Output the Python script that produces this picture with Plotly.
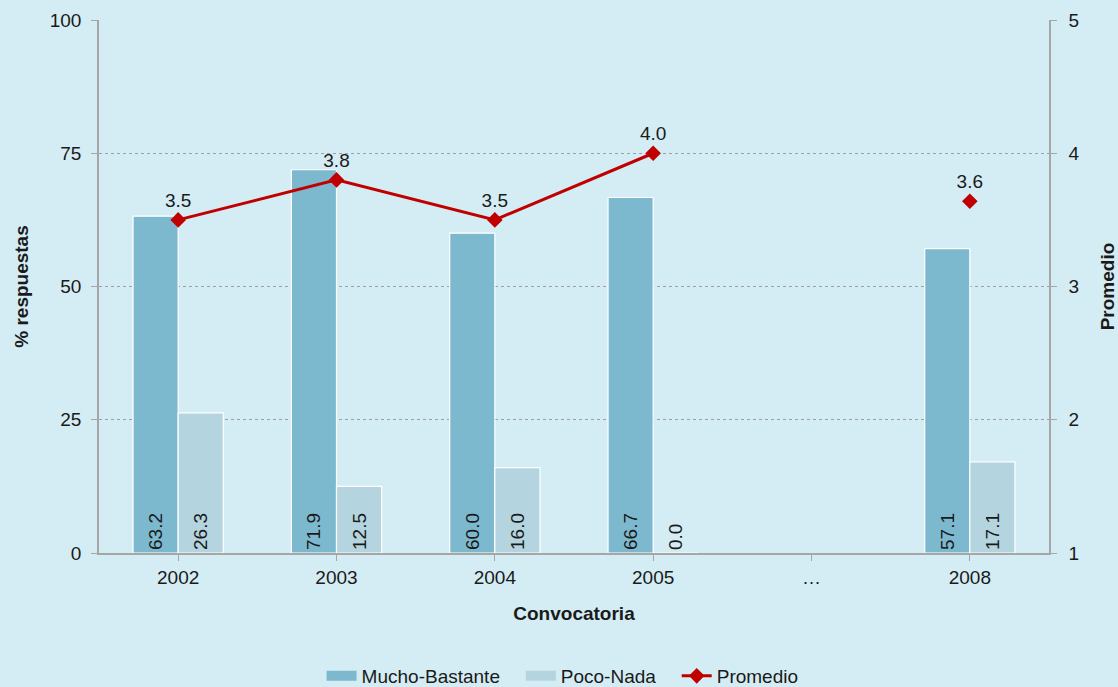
import plotly.graph_objects as go

# Data
convocatorias = ["2002", "2003", "2004", "2005", "…", "2008"]
mucho_bastante = [63.2, 71.9, 60.0, 66.7, None, 57.1]
poco_nada = [26.3, 12.5, 16.0, 0.0, None, 17.1]
promedio = [3.5, 3.8, 3.5, 4.0, None, 3.64]

BG = "#D4EDF4"
FONT = "Liberation Sans, Arial, sans-serif"
TEXT = "#1A1A1A"
AXIS = "#A6A6A6"
C_MUCHO = "#7DB9CE"
C_POCO = "#B4D4DF"
C_PROM = "#C00000"
FS = 19
GAP = "&nbsp;&nbsp;&nbsp;"

def bar_text(vals):
    return ["" if v is None else f"{v:.1f}" for v in vals]

def bar_pos(vals):
    return ["outside" if (v is not None and v == 0) else "inside" for v in vals]

fig = go.Figure()

fig.add_trace(go.Bar(
    name="Mucho-Bastante", legendgroup="mb", showlegend=False,
    x=convocatorias, y=mucho_bastante,
    marker=dict(color=C_MUCHO, line=dict(color="#FFFFFF", width=1.2)),
    text=bar_text(mucho_bastante), textposition=bar_pos(mucho_bastante),
    insidetextanchor="start", textangle=-90,
    textfont=dict(family=FONT, size=FS, color=TEXT),
    constraintext="none", cliponaxis=False,
))

fig.add_trace(go.Bar(
    name="Poco-Nada", legendgroup="pn", showlegend=False,
    x=convocatorias, y=poco_nada,
    marker=dict(color=C_POCO, line=dict(color="#FFFFFF", width=1.2)),
    text=bar_text(poco_nada), textposition=bar_pos(poco_nada),
    insidetextanchor="start", textangle=-90,
    textfont=dict(family=FONT, size=FS, color=TEXT),
    constraintext="none", cliponaxis=False,
))

# Legend swatches for the bar series, drawn as wide flat rectangles
for name, color, grp in [("Mucho-Bastante", C_MUCHO, "mb"), ("Poco-Nada", C_POCO, "pn")]:
    fig.add_trace(go.Scatter(
        name=name + GAP, legendgroup=grp, x=[None], y=[None],
        mode="lines", line=dict(color=color, width=10),
        hoverinfo="skip",
    ))

fig.add_trace(go.Scatter(
    name="Promedio",
    x=convocatorias, y=promedio, yaxis="y2",
    mode="lines+markers+text",
    line=dict(color=C_PROM, width=3),
    marker=dict(symbol="diamond", size=12, color=C_PROM),
    text=["" if v is None else f"{v:.1f}" for v in promedio],
    textposition="top center",
    textfont=dict(family=FONT, size=FS, color=TEXT),
    connectgaps=False, cliponaxis=False,
))

fig.update_layout(
    width=1118, height=687,
    margin=dict(l=99, r=69, t=20, b=134),
    paper_bgcolor=BG, plot_bgcolor=BG,
    font=dict(family=FONT, size=FS, color=TEXT),
    barmode="group", bargap=0.43, bargroupgap=0.0,
    showlegend=True,
    legend=dict(
        orientation="h", x=0.488, xanchor="center",
        yref="container", y=0.016, yanchor="middle",
        font=dict(family=FONT, size=FS, color=TEXT),
        traceorder="normal",
    ),
    xaxis=dict(
        type="category", automargin=False,
        showline=True, linecolor=AXIS, linewidth=1.5,
        ticks="outside", ticklen=6, tickcolor=AXIS,
        tickfont=dict(family=FONT, size=FS, color=TEXT),
        title=dict(text="<b>Convocatoria</b>", standoff=20,
                   font=dict(family=FONT, size=FS, color=TEXT)),
        showgrid=False,
    ),
    yaxis=dict(
        range=[0, 100], tickvals=[0, 25, 50, 75, 100], automargin=False,
        showline=True, linecolor=AXIS, linewidth=1.5,
        ticks="outside", ticklen=6, tickcolor=AXIS,
        ticklabelstandoff=6,
        tickfont=dict(family=FONT, size=FS, color=TEXT),
        showgrid=True, gridcolor="#A0A0A0", griddash="3px,3px", gridwidth=1,
        zeroline=False,
        title=dict(text="<b>% respuestas</b>", standoff=16,
                   font=dict(family=FONT, size=FS, color=TEXT)),
    ),
    yaxis2=dict(
        overlaying="y", side="right", automargin=False,
        range=[1, 5], tickvals=[1, 2, 3, 4, 5],
        showline=True, linecolor=AXIS, linewidth=1.5,
        ticks="outside", ticklen=6, tickcolor=AXIS,
        ticklabelstandoff=8,
        tickfont=dict(family=FONT, size=FS, color=TEXT),
        showgrid=False, zeroline=False,
        title=dict(text="<b>Promedio</b>", standoff=24,
                   font=dict(family=FONT, size=FS, color=TEXT)),
    ),
)

fig.write_html("out.html")
